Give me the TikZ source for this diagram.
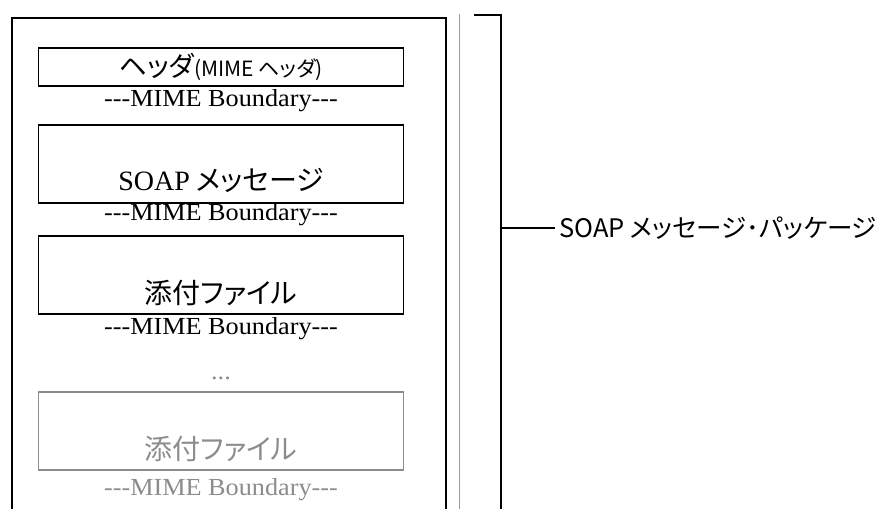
\documentclass[tikz,border=0pt]{standalone}
\usepackage{fontspec}
\setmainfont{Liberation Serif}
\newfontfamily\jpfont[RawFeature=+palt]{Noto Sans CJK JP}
\newfontfamily\bndfont[FakeStretch=1.07]{Liberation Serif}
\usetikzlibrary{positioning}
\definecolor{partgray}{HTML}{8C8C8C}
\definecolor{linegray}{HTML}{9A9A9A}

\begin{document}
\begin{tikzpicture}[x=1pt,y=-1pt,
        part/.style={draw,line width=1.4pt,minimum width=365pt,inner sep=0pt},
        parttext/.style={font=\jpfont\fontsize{28}{28}\selectfont,inner sep=0pt},
        boundary/.style={font=\bndfont\fontsize{24.5}{24.5}\selectfont,inner sep=0pt}]
        \useasboundingbox (0,0) rectangle (887,509);
        %\draw (0,0) rectangle (887,509);

        % outer frame (open at the bottom)
        \draw[line width=1.8pt] (12,515) -- (12,18) -- (446,18) -- (446,515);
        \draw[color=linegray,line width=0.8pt] (459,14) -- (459,515);

        % parts of the message
        \node[part,minimum height=38pt] (hdr) at (221,67) {};
        \node[parttext,font=\jpfont\fontsize{27.5}{27.5}\selectfont] (hdrtxt) at (hdr.center) {ヘッダ{\fontsize{21}{21}\selectfont(MIME ヘッダ)}};
        \node[boundary] (bnd1) at (221,101) {---MIME Boundary---};

        \node[part,minimum height=78pt] (soap) at (221,164) {};
        \node[parttext,anchor=base] (soaptxt) at (221,190) {{\rmfamily\fontsize{28}{28}\selectfont SOAP} メッセージ};
        \node[boundary] (bnd2) at (221,215) {---MIME Boundary---};

        \node[part,minimum height=78pt] (att) at (221,275) {};
        \node[parttext,anchor=base] (atttxt) at (221,303) {添付ファイル};
        \node[boundary] (bnd3) at (221,329) {---MIME Boundary---};

        \node[boundary,color=partgray] (dots) at (221,378) {...};
        \node[part,color=partgray,minimum height=78pt] (att2) at (221,431) {};
        \node[parttext,anchor=base,color=partgray] (att2txt) at (221,459) {添付ファイル};
        \node[boundary,color=partgray] (bnd4) at (221,490) {---MIME Boundary---};

        % bracket with label
        \coordinate (brtop) at (474,15);
        \coordinate (brcorner) at (501,15);
        \coordinate (brend) at (501,515);
        \coordinate (brtick) at (501,228);
        \draw[line width=1.8pt] (brtop) -- (brcorner) -- (brend);
        \node[parttext,font=\jpfont\fontsize{25.5}{25.5}\selectfont,inner xsep=4pt,anchor=west] (pkg) at (555,228) {SOAP メッセージ･パッケージ};
        \draw[line width=1.4pt] (brtick) -- (pkg.west);

\end{tikzpicture}
\end{document}
